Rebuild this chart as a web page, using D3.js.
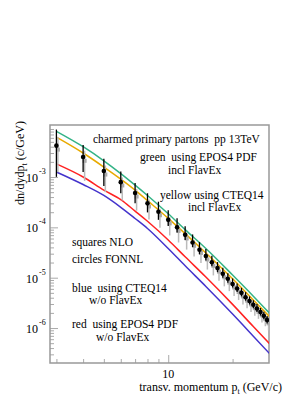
<!DOCTYPE html>
<html>
<head>
<meta charset="utf-8">
<script src="https://cdn.jsdelivr.net/npm/d3@7"></script>
<style>
  body { margin: 0; background: #fff; }
  text { font-family: "Liberation Serif", "DejaVu Serif", serif; fill: #000; }
</style>
</head>
<body>
<div id="chart"></div>
<script>
// curves: pt grid and dn/dydpt values
const curvePt = [3, 4, 5, 6, 7, 8, 10, 12, 15, 20, 25, 30];
const greenEpos = [8.1e-3, 4.0e-3, 2.1e-3, 1.17e-3, 6.9e-4, 4.3e-4, 1.86e-4, 9.0e-5, 3.8e-5, 1.13e-5, 4.3e-6, 1.9e-6];
const yellowCteq = [6.2e-3, 3.0e-3, 1.58e-3, 9.1e-4, 5.5e-4, 3.4e-4, 1.51e-4, 7.5e-5, 3.1e-5, 9.5e-6, 3.6e-6, 1.62e-6];
const redEpos = [1.82e-3, 1.0e-3, 5.5e-4, 3.55e-4, 2.1e-4, 1.32e-4, 5.6e-5, 2.6e-5, 1.03e-5, 2.95e-6, 1.07e-6, 4.7e-7];
const blueCteq = [1.26e-3, 7.1e-4, 4.3e-4, 2.5e-4, 1.5e-4, 9.5e-5, 3.8e-5, 1.72e-5, 6.7e-6, 1.9e-6, 6.9e-7, 3.0e-7];

// points: FONNL circles and NLO squares, errors in decades
const pointPt = [3, 4, 5, 6, 7, 8, 9, 10, 11, 12, 13, 14, 15, 16, 17, 18, 19, 20, 21, 22, 23, 24, 25, 26, 27, 28, 29];
const fonnl = [4.2e-3, 2.5e-3, 1.32e-3, 7.9e-4, 4.8e-4, 3.0e-4, 2.04e-4, 1.41e-4, 1.0e-4, 7.1e-5, 5.0e-5, 3.6e-5, 2.7e-5, 2.02e-5,
    1.55e-5, 1.2e-5, 9.5e-6, 7.5e-6, 6.1e-6, 5.0e-6, 4.1e-6, 3.45e-6, 2.9e-6, 2.45e-6, 2.08e-6, 1.75e-6, 1.45e-6];
const fonnlUp = [0.32, 0.24, 0.24, 0.21, 0.2, 0.2, 0.2, 0.19, 0.18, 0.17, 0.16, 0.15, 0.14, 0.13, 0.12, 0.12, 0.11, 0.11, 0.1, 0.1,
    0.1, 0.09, 0.09, 0.09, 0.08, 0.08, 0.08];
const fonnlDn = [0.62, 0.3, 0.3, 0.22, 0.2, 0.18, 0.16, 0.12, 0.1, 0.1, 0.09, 0.09, 0.09, 0.08, 0.08, 0.08, 0.08, 0.07, 0.07, 0.07,
    0.07, 0.07, 0.07, 0.07, 0.07, 0.07, 0.07];
const nlo = [3.5e-3, 2.1e-3, 1.12e-3, 6.8e-4, 4.1e-4, 2.6e-4, 1.74e-4, 1.2e-4, 8.5e-5, 6.0e-5, 4.3e-5, 3.1e-5, 2.3e-5, 1.72e-5,
    1.32e-5, 1.02e-5, 8.0e-6, 6.4e-6, 5.2e-6, 4.25e-6, 3.5e-6, 2.95e-6, 2.48e-6, 2.1e-6, 1.78e-6, 1.5e-6, 1.24e-6];
const nloUp = [0.25, 0.2, 0.18, 0.16, 0.15, 0.14, 0.13, 0.13, 0.12, 0.12, 0.11, 0.11, 0.1, 0.1, 0.1, 0.1, 0.09, 0.09, 0.09, 0.09,
    0.08, 0.08, 0.08, 0.08, 0.08, 0.08, 0.08];
const nloDn = [0.45, 0.4, 0.35, 0.3, 0.28, 0.26, 0.25, 0.24, 0.23, 0.22, 0.21, 0.2, 0.2, 0.19, 0.18, 0.18, 0.17, 0.17, 0.16, 0.16,
    0.15, 0.15, 0.15, 0.14, 0.14, 0.14, 0.14];

const xMajor = [10];
const xMinor = [3, 4, 5, 6, 7, 8, 9, 20];
const yDecades = [-6, -5, -4, -3];

const notes = [
    { t: "charmed primary partons  pp 13TeV", x: 93, y: 143 },
    { t: "green  using EPOS4 PDF", x: 140, y: 161 },
    { t: "incl FlavEx", x: 168, y: 174 },
    { t: "yellow using CTEQ14", x: 160, y: 199 },
    { t: "incl FlavEx", x: 188, y: 211 },
    { t: "squares NLO", x: 72, y: 246 },
    { t: "circles FONNL", x: 72, y: 263 },
    { t: "blue  using CTEQ14", x: 72, y: 292 },
    { t: "w/o FlavEx", x: 89, y: 304 },
    { t: "red  using EPOS4 PDF", x: 72, y: 328 },
    { t: "w/o FlavEx", x: 96, y: 341 }
];

const W = 289, H = 410;
const frame = { left: 50, right: 269, top: 125, bottom: 363 };

const svg = d3.select("#chart").append("svg")
    .attr("width", W)
    .attr("height", H);

const x = d3.scaleLog()
    .domain([2.8, 29.6])
    .range([frame.left, frame.right]);

const y = d3.scaleLog()
    .domain([2.02e-7, 1.08e-2])
    .range([frame.bottom, frame.top]);

svg.append("clipPath").attr("id", "clip")
    .append("rect")
    .attr("x", frame.left).attr("y", frame.top)
    .attr("width", frame.right - frame.left)
    .attr("height", frame.bottom - frame.top);

// y ticks, pointing into the frame
const yMinorVals = [];
for (let e = -7; e <= -2; e++) {
    for (let m = 2; m <= 9; m++) {
        const v = m * Math.pow(10, e);
        if (v > y.domain()[0] && v < y.domain()[1]) yMinorVals.push(v);
    }
}
const yAxisMinor = svg.append("g")
    .attr("transform", `translate(${frame.left},0)`)
    .call(d3.axisRight(y).tickValues(yMinorVals).tickSize(4).tickFormat(""));
const yAxisMajor = svg.append("g")
    .attr("transform", `translate(${frame.left},0)`)
    .call(d3.axisRight(y).tickValues(yDecades.map(e => Math.pow(10, e))).tickSize(8).tickFormat(""));

const xAxisMinor = svg.append("g")
    .attr("transform", `translate(0,${frame.bottom})`)
    .call(d3.axisTop(x).tickValues(xMinor).tickSize(4).tickFormat(""));
const xAxisMajor = svg.append("g")
    .attr("transform", `translate(0,${frame.bottom})`)
    .call(d3.axisTop(x).tickValues(xMajor).tickSize(8).tickFormat(""));

[yAxisMinor, yAxisMajor, xAxisMinor, xAxisMajor].forEach(g => {
    g.select(".domain").remove();
    g.selectAll("line").style("stroke", "#aaa").style("stroke-width", 1);
});

// frame
svg.append("rect")
    .attr("x", frame.left).attr("y", frame.top)
    .attr("width", frame.right - frame.left)
    .attr("height", frame.bottom - frame.top)
    .attr("fill", "none")
    .attr("stroke", "#999")
    .attr("stroke-width", 1.5);

// y tick labels 10^e
yDecades.forEach(e => {
    svg.append("text")
        .attr("x", 38)
        .attr("y", y(Math.pow(10, e)) + 5)
        .attr("text-anchor", "end")
        .style("font-size", "12px")
        .text("10");
    svg.append("text")
        .attr("x", 39)
        .attr("y", y(Math.pow(10, e)) - 3)
        .style("font-size", "8px")
        .text(e);
});

// x tick label
xMajor.forEach(v => {
    svg.append("text")
        .attr("x", x(v))
        .attr("y", frame.bottom + 15)
        .attr("text-anchor", "middle")
        .style("font-size", "12px")
        .text(v);
});

// axis titles
const xTitle = svg.append("text")
    .attr("x", 282)
    .attr("y", 391)
    .attr("text-anchor", "end")
    .style("font-size", "12px");
xTitle.append("tspan").text("transv. momentum p");
xTitle.append("tspan").attr("dy", 3).style("font-size", "8px").text("t");
xTitle.append("tspan").attr("dy", -3).text(" (GeV/c)");

const yTitle = svg.append("text")
    .attr("transform", "translate(24,121) rotate(-90)")
    .attr("text-anchor", "end")
    .style("font-size", "12px");
yTitle.append("tspan").text("dn/dydp");
yTitle.append("tspan").attr("dy", 3).style("font-size", "8px").text("t");
yTitle.append("tspan").attr("dy", -3).text(" (c/GeV)");

// curves
const plot = svg.append("g").attr("clip-path", "url(#clip)");

const line = d3.line()
    .x(d => x(d[0]))
    .y(d => y(d[1]))
    .curve(d3.curveMonotoneX);

const curves = [
    { values: blueCteq, color: "#4433cc" },
    { values: redEpos, color: "#ff2222" },
    { values: yellowCteq, color: "#e8aa00" },
    { values: greenEpos, color: "#33b386" }
];

curves.forEach(c => {
    plot.append("path")
        .datum(curvePt.map((p, i) => [p, c.values[i]]))
        .attr("fill", "none")
        .attr("stroke", c.color)
        .attr("stroke-width", 1.5)
        .attr("d", line);
});

// NLO squares (grey), drawn first
const nloData = pointPt.map((p, i) => ({ p, v: nlo[i], up: nloUp[i], dn: nloDn[i] }));
const fonnlData = pointPt.map((p, i) => ({ p, v: fonnl[i], up: fonnlUp[i], dn: fonnlDn[i] }));

plot.selectAll(".nlo-bar")
    .data(nloData)
    .enter().append("line")
    .attr("x1", d => x(d.p) + 1.5)
    .attr("x2", d => x(d.p) + 1.5)
    .attr("y1", d => y(d.v * Math.pow(10, d.up)))
    .attr("y2", d => y(d.v / Math.pow(10, d.dn)))
    .attr("stroke", "#bbb")
    .attr("stroke-width", 1.5);

plot.selectAll(".nlo-pt")
    .data(nloData)
    .enter().append("rect")
    .attr("x", d => x(d.p) + 1.5 - 2)
    .attr("y", d => y(d.v) - 2)
    .attr("width", 4)
    .attr("height", 4)
    .attr("fill", "#aaa");

// FONNL circles (black)
plot.selectAll(".fonnl-bar")
    .data(fonnlData)
    .enter().append("line")
    .attr("x1", d => x(d.p))
    .attr("x2", d => x(d.p))
    .attr("y1", d => y(d.v * Math.pow(10, d.up)))
    .attr("y2", d => y(d.v / Math.pow(10, d.dn)))
    .attr("stroke", "#000")
    .attr("stroke-width", 1.3);

plot.selectAll(".fonnl-pt")
    .data(fonnlData)
    .enter().append("circle")
    .attr("cx", d => x(d.p))
    .attr("cy", d => y(d.v))
    .attr("r", 2.3)
    .attr("fill", "#000");

// annotations
svg.selectAll(".note")
    .data(notes)
    .enter().append("text")
    .attr("x", d => d.x)
    .attr("y", d => d.y)
    .attr("xml:space", "preserve")
    .style("white-space", "pre")
    .style("font-size", "11.5px")
    .text(d => d.t);
</script>
</body>
</html>
